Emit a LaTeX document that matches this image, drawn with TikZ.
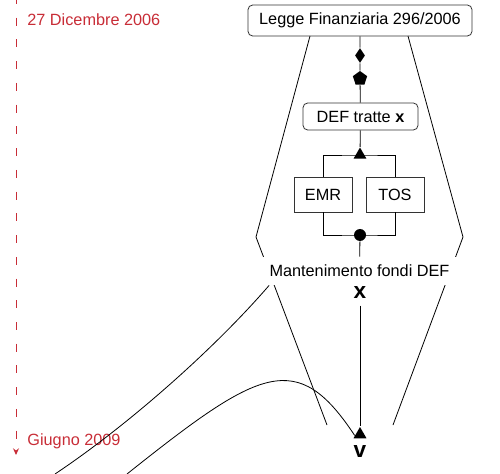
\documentclass[tikz,border=0pt]{standalone}
\usepackage{fontspec}
\setmainfont{Liberation Sans}
\usetikzlibrary{shapes.geometric,arrows.meta}
\definecolor{timered}{RGB}{200,45,55}

\begin{document}
\begin{tikzpicture}[x=0.75pt,y=-0.75pt,line width=0.6pt,
        font=\fontsize{12.2}{14}\selectfont,
        lawbox/.style={draw=black!80,rounded corners=3.5pt,inner sep=0pt},
        partbox/.style={draw=black!80,inner sep=0pt,minimum width=43.5pt,minimum height=26.25pt},
        datelabel/.style={text=timered,anchor=base west,inner sep=0pt},
        marker/.style={fill,inner sep=0pt},
        tri/.style={marker,regular polygon,regular polygon sides=3,minimum size=11.25pt},
        big/.style={font=\fontsize{17}{17}\selectfont\bfseries,inner sep=5pt}]
    \useasboundingbox (0,0) rectangle (500,474);

    % timeline
    \coordinate (tstart) at (16,-4);
    \coordinate (tend) at (16,455);
    \draw[timered,line width=0.75pt,dash pattern=on 6pt off 10.3pt,
          -{Stealth[length=5pt,width=4.5pt]}] (tstart) -- (tend);
    \node[datelabel] (d2006) at (27,26) {27 Dicembre 2006};
    \node[datelabel] (d2009) at (27,445) {Giugno 2009};

    % outline around the law
    \coordinate (fl1) at (310,36);
    \coordinate (fl2) at (256,237);
    \coordinate (fl3) at (327,425);
    \coordinate (fr1) at (408,36);
    \coordinate (fr2) at (463,237);
    \coordinate (fr3) at (393,425);
    \draw (fl1) -- (fl2) -- (fl3);
    \draw (fr1) -- (fr2) -- (fr3);

    \node[lawbox,minimum width=168pt,minimum height=23.25pt] (legge) at (360,20.5) {Legge Finanziaria 296/2006};
    \node[marker,diamond,minimum width=7.5pt,minimum height=11.25pt] (dia) at (360,55.5) {};
    \node[marker,regular polygon,regular polygon sides=5,minimum size=11.25pt] (pent) at (360,78.5) {};
    \node[lawbox,minimum width=86.25pt,minimum height=20.25pt] (def) at (360.5,116.5) {DEF tratte \textbf{x}};
    \node[tri] (tri1) at (360,155) {};
    \node[partbox] (emr) at (323,194.5) {EMR};
    \node[partbox] (tos) at (395,194.5) {TOS};
    \node[marker,circle,minimum size=9pt] (dot) at (360,235) {};
    \node[fill=white,inner sep=6pt] (mant) at (359.5,271) {Mantenimento fondi DEF};
    \node[big] (xsym) at (360,292.5) {x};
    \node[tri] (tri2) at (360,434.5) {};
    \node[big,inner sep=0pt] (vsym) at (360,451.5) {v};

    \draw (legge) -- (dia) -- (pent) -- (def);
    \draw (def) -- (tri1);
    \draw (emr.north) |- (tri1.center) -| (tos.north);
    \draw (emr.south) |- (dot.center) -| (tos.south);
    \draw (dot) -- (mant);
    \draw (xsym) -- (tri2);

    % the two curves from below
    \coordinate (a0) at (55,474);
    \coordinate (b0) at (127,474);
    \draw (a0) .. controls (130,424) and (216,347) .. ([xshift=6pt]mant.south west);
    \draw (b0) .. controls (260,368) and (297,348) .. (tri2.190);
\end{tikzpicture}
\end{document}
